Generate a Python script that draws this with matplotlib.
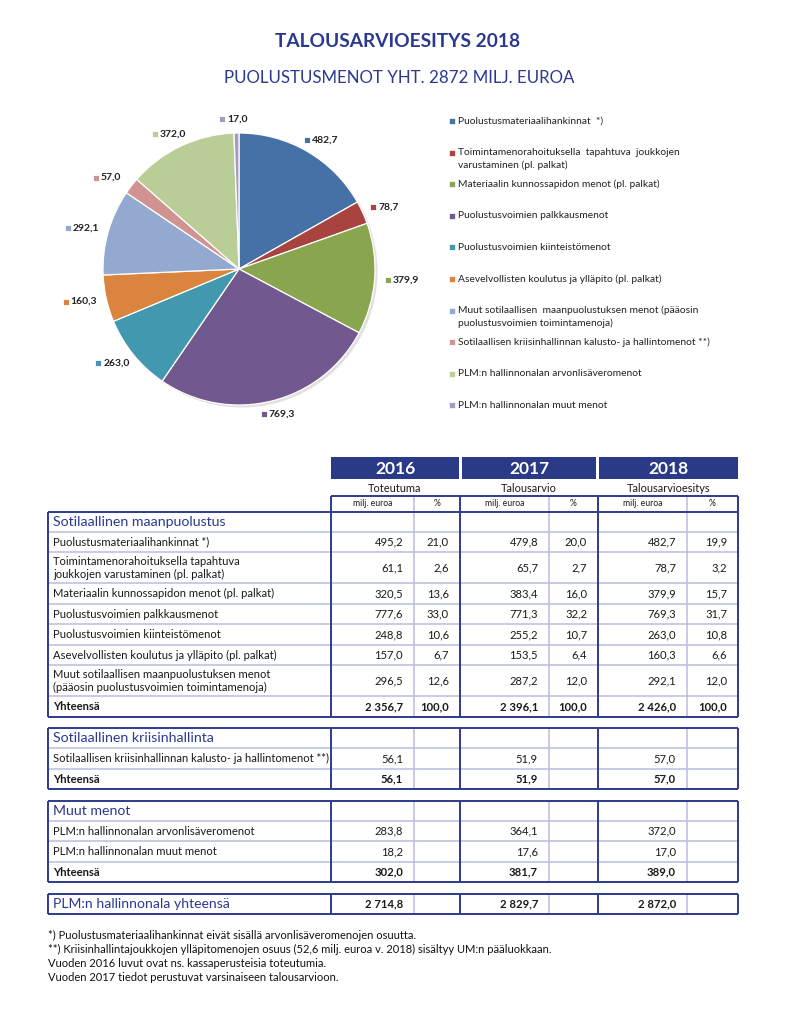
import matplotlib
matplotlib.use('Agg')
import matplotlib.pyplot as plt
from matplotlib.patches import Rectangle, Circle
import numpy as np

plt.rcParams['font.family'] = ['Lato', 'DejaVu Sans']

W, H, DPI = 790, 1022, 100

# ---------------- data ----------------
title = "TALOUSARVIOESITYS 2018"
subtitle = "PUOLUSTUSMENOT YHT. 2872 MILJ. EUROA"

pie_labels = [
    "Puolustusmateriaalihankinnat  *)",
    "Toimintamenorahoituksella  tapahtuva  joukkojen\nvarustaminen (pl. palkat)",
    "Materiaalin kunnossapidon menot (pl. palkat)",
    "Puolustusvoimien palkkausmenot",
    "Puolustusvoimien kiinteistömenot",
    "Asevelvollisten koulutus ja ylläpito (pl. palkat)",
    "Muut sotilaallisen  maanpuolustuksen menot (pääosin\npuolustusvoimien toimintamenoja)",
    "Sotilaallisen kriisinhallinnan kalusto- ja hallintomenot **)",
    "PLM:n hallinnonalan arvonlisäveromenot",
    "PLM:n hallinnonalan muut menot",
]
pie_values = [482.7, 78.7, 379.9, 769.3, 263.0, 160.3, 292.1, 57.0, 372.0, 17.0]
pie_colors = ['#4571A6', '#A9433F', '#89A54E', '#71588F', '#4198AF',
              '#DB843D', '#93A9CF', '#D19392', '#B9CD96', '#A99BBD']

years = ["2016", "2017", "2018"]
year_sub = ["Toteutuma", "Talousarvio", "Talousarvioesitys"]
unit_eur = "milj. euroa"
unit_pct = "%"

sec1_title = "Sotilaallinen maanpuolustus"
sec1_rows = [
    "Puolustusmateriaalihankinnat *)",
    "Toimintamenorahoituksella tapahtuva\njoukkojen varustaminen (pl. palkat)",
    "Materiaalin kunnossapidon menot (pl. palkat)",
    "Puolustusvoimien palkkausmenot",
    "Puolustusvoimien kiinteistömenot",
    "Asevelvollisten koulutus ja ylläpito (pl. palkat)",
    "Muut sotilaallisen maanpuolustuksen menot\n(pääosin puolustusvoimien toimintamenoja)",
]
eur_2016 = [495.2, 61.1, 320.5, 777.6, 248.8, 157.0, 296.5]
pct_2016 = [21.0, 2.6, 13.6, 33.0, 10.6, 6.7, 12.6]
eur_2017 = [479.8, 65.7, 383.4, 771.3, 255.2, 153.5, 287.2]
pct_2017 = [20.0, 2.7, 16.0, 32.2, 10.7, 6.4, 12.0]
eur_2018 = [482.7, 78.7, 379.9, 769.3, 263.0, 160.3, 292.1]
pct_2018 = [19.9, 3.2, 15.7, 31.7, 10.8, 6.6, 12.0]
sec1_total = [2356.7, 2396.1, 2426.0]
sec1_total_pct = [100.0, 100.0, 100.0]

sec2_title = "Sotilaallinen kriisinhallinta"
sec2_rows = ["Sotilaallisen kriisinhallinnan kalusto- ja hallintomenot **)"]
sec2_eur = [[56.1], [51.9], [57.0]]
sec2_total = [56.1, 51.9, 57.0]

sec3_title = "Muut menot"
sec3_rows = ["PLM:n hallinnonalan arvonlisäveromenot", "PLM:n hallinnonalan muut menot"]
sec3_eur = [[283.8, 18.2], [364.1, 17.6], [372.0, 17.0]]
sec3_total = [302.0, 381.7, 389.0]

total_label = "Yhteensä"
grand_label = "PLM:n hallinnonala yhteensä"
grand_total = [2714.8, 2829.7, 2872.0]

footnotes = [
    "*) Puolustusmateriaalihankinnat eivät sisällä arvonlisäveromenojen osuutta.",
    "**) Kriisinhallintajoukkojen ylläpitomenojen osuus (52,6 milj. euroa v. 2018) sisältyy UM:n pääluokkaan.",
    "Vuoden 2016 luvut ovat ns. kassaperusteisia toteutumia.",
    "Vuoden 2017 tiedot perustuvat varsinaiseen talousarvioon.",
]

# ---------------- style ----------------
BLUE = '#2B3990'
HEAD_FILL = '#2A3A87'
DARK = '#2E3A8C'
LIGHT = '#BEC2E2'
TXT = '#1A1A1A'


def fmt(v):
    s = f"{v:,.1f}"
    return s.replace(',', ' ').replace('.', ',')


fig = plt.figure(figsize=(W / DPI, H / DPI), dpi=DPI)
tax = fig.add_axes([0, 0, 1, 1])
tax.set_xlim(0, W)
tax.set_ylim(H, 0)
tax.axis('off')
renderer = fig.canvas.get_renderer()

# titles
tax.text(398, 47, title, ha='center', va='baseline', fontsize=13.8, fontweight='bold', color=BLUE)
tax.text(399, 83, subtitle, ha='center', va='baseline', fontsize=12.2, color=BLUE)

# ---------------- pie ----------------
R_PX = 136
cx, cy = 239, 269
half = 210
pax = fig.add_axes([(cx - half) / W, 1 - (cy + half) / H, 2 * half / W, 2 * half / H])
wedges, _ = pax.pie(pie_values, colors=pie_colors, startangle=90, counterclock=False,
                    radius=1, wedgeprops=dict(edgecolor='white', linewidth=0.9))
px = 1.0 / R_PX
pax.add_patch(Circle((2.5 * px, -2.5 * px), 1.0, facecolor='#000000', alpha=0.12, zorder=0.5, lw=0))
lim = half / R_PX
pax.set_xlim(-lim, lim)
pax.set_ylim(-lim, lim)
pax.axis('off')
for w, v, c in zip(wedges, pie_values, pie_colors):
    ang = np.deg2rad((w.theta1 + w.theta2) / 2)
    lx, ly = 1.2 * np.cos(ang), 1.1 * np.sin(ang)
    left = lx - 17 * px
    pax.add_patch(Rectangle((left, ly - 3 * px), 6 * px, 6 * px, facecolor=c,
                            edgecolor='white', lw=0.6, zorder=5))
    pax.text(left + 8 * px, ly, fmt(v), ha='left', va='center', fontsize=7.5,
             fontweight='bold', color='#222222', zorder=5)

# ---------------- legend ----------------
leg_x, leg_y0, leg_step = 449, 121, 31.6
for i, (lab, c) in enumerate(zip(pie_labels, pie_colors)):
    y = leg_y0 + i * leg_step
    tax.add_patch(Rectangle((leg_x, y - 3), 6, 6, facecolor=c, edgecolor='white', lw=0.5))
    for k, line in enumerate(lab.split('\n')):
        tax.text(leg_x + 9, y + k * 12.5, line, ha='left', va='center', fontsize=7.4, color='#222222')

# ---------------- table ----------------
xb = [48, 331, 414, 460, 549, 598, 687, 738]
dark_v = [48, 331, 460, 598, 738]
light_v = [414, 549, 687]
PAD = 11
FS = 8.1

# year headers
hdr_spans = [(331, 459), (462, 596), (599, 738)]
for (x0, x1), yr, sub in zip(hdr_spans, years, year_sub):
    tax.add_patch(Rectangle((x0, 457), x1 - x0, 22, facecolor=HEAD_FILL, edgecolor='none'))
    tax.text((x0 + x1) / 2, 469, yr, ha='center', va='center', fontsize=12.5,
             fontweight='bold', color='white')
    tax.text((x0 + x1) / 2, 489, sub, ha='center', va='center', fontsize=7.9, color=TXT)

# units row
uy0, uy1 = 496, 512
for j in range(3):
    a, b, c2 = xb[1 + 2 * j], xb[2 + 2 * j], xb[3 + 2 * j]
    tax.text((a + b) / 2, (uy0 + uy1) / 2, unit_eur, ha='center', va='center', fontsize=6.2, color=TXT)
    tax.text((b + c2) / 2, (uy0 + uy1) / 2, unit_pct, ha='center', va='center', fontsize=6.2, color=TXT)
for x in light_v:
    tax.plot([x, x], [uy0, uy1], color=LIGHT, lw=1.2, solid_capstyle='butt')
for x in dark_v[1:]:
    tax.plot([x, x], [uy0, uy1], color=DARK, lw=1.4, solid_capstyle='butt')
tax.plot([331, 738], [uy0, uy0], color=DARK, lw=1.4, solid_capstyle='butt')

H_HEAD, H_ONE, H_TWO, GAP = 20, 20.5, 31, 11.5
GRAND_MAX_W = 176  # px width of the grand-total label in the reference


def num_cells(y0, y1, vals, pcts, bold):
    yc = (y0 + y1) / 2
    fw = 'bold' if bold else 'normal'
    for j in range(3):
        if vals[j] is not None:
            tax.text(xb[2 + 2 * j] - PAD, yc, fmt(vals[j]), ha='right', va='center',
                     fontsize=FS, fontweight=fw, color=TXT)
        if pcts is not None and pcts[j] is not None:
            tax.text(xb[3 + 2 * j] - PAD, yc, fmt(pcts[j]), ha='right', va='center',
                     fontsize=FS, fontweight=fw, color=TXT)


def section(y, title_txt, rows, big=False):
    top = y
    lines = []
    if title_txt is not None:
        tax.text(53, y + H_HEAD / 2, title_txt, ha='left', va='center', fontsize=10.2, color=BLUE)
        y += H_HEAD
        lines.append(y)
    for lab, vals, pcts, bold in rows:
        h = H_TWO if '\n' in lab else H_ONE
        if big:
            t = tax.text(53, y + h / 2, lab, ha='left', va='center', fontsize=10.2, color=BLUE)
            wpx = t.get_window_extent(renderer=renderer).width
            if wpx > GRAND_MAX_W:
                t.set_fontsize(10.2 * GRAND_MAX_W / wpx)
        else:
            tax.text(53, y + h / 2, lab, ha='left', va='center', fontsize=FS, color=TXT,
                     fontweight='bold' if bold else 'normal', linespacing=1.15)
        num_cells(y, y + h, vals, pcts, bold)
        y += h
        lines.append(y)
    bottom = y
    for ly in lines[:-1]:
        tax.plot([48, 738], [ly, ly], color=LIGHT, lw=1.2, solid_capstyle='butt', zorder=1)
    for x in light_v:
        tax.plot([x, x], [top, bottom], color=LIGHT, lw=1.2, solid_capstyle='butt', zorder=1)
    for x in dark_v:
        tax.plot([x, x], [top, bottom], color=DARK, lw=1.4, solid_capstyle='butt', zorder=2)
    tax.plot([48, 738], [top, top], color=DARK, lw=1.4, solid_capstyle='butt', zorder=2)
    tax.plot([48, 738], [bottom, bottom], color=DARK, lw=1.4, solid_capstyle='butt', zorder=2)
    return bottom


y = 512
rows1 = []
for i, lab in enumerate(sec1_rows):
    rows1.append((lab, [eur_2016[i], eur_2017[i], eur_2018[i]],
                  [pct_2016[i], pct_2017[i], pct_2018[i]], False))
rows1.append((total_label, sec1_total, sec1_total_pct, True))
y = section(y, sec1_title, rows1) + GAP

rows2 = [(lab, [sec2_eur[0][i], sec2_eur[1][i], sec2_eur[2][i]], None, False)
         for i, lab in enumerate(sec2_rows)]
rows2.append((total_label, sec2_total, None, True))
y = section(y, sec2_title, rows2) + GAP

rows3 = [(lab, [sec3_eur[0][i], sec3_eur[1][i], sec3_eur[2][i]], None, False)
         for i, lab in enumerate(sec3_rows)]
rows3.append((total_label, sec3_total, None, True))
y = section(y, sec3_title, rows3) + GAP

section(y, None, [(grand_label, grand_total, None, True)], big=True)

# footnotes
for k, t in enumerate(footnotes):
    tax.text(48, 935 + k * 14.3, t, ha='left', va='center', fontsize=8.0, color='#111111')

fig.savefig('out.png', dpi=DPI)
